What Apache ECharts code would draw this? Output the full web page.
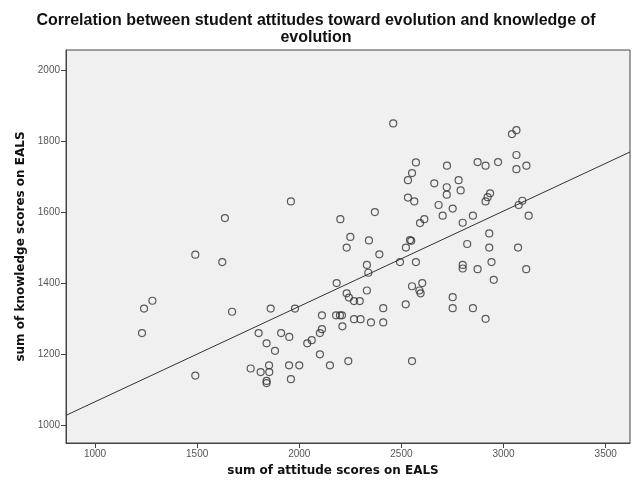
<!DOCTYPE html>
<html><head><meta charset="utf-8">
<script src="https://cdn.jsdelivr.net/npm/echarts@6/dist/echarts.min.js"></script>
<style>html,body{margin:0;padding:0;background:#fff}#c{width:632px;height:490px}</style>
</head><body><div id="c"></div>
<script>
const attitude = [1491,1623,1281,1240,1230,1671,1860,1979,1801,1911,1951,1840,1881,1491,1762,1852,1811,1853,1840,1840,1950,2000,1959,1636,
2460,1959,2571,2552,2532,2723,2780,2661,2722,2722,2790,2532,2563,2682,2751,2702,2370,2201,2612,2591,2250,2232,2341,2392,2542,2548,2522,2331,2493,2571,
2338,2183,2331,2232,2243,2268,2296,2552,2602,2588,2594,2521,2411,2751,2751,2111,2180,2199,2209,2268,2300,2351,2411,2211,2111,2101,2061,2039,2101,2150,2240,2552,
3063,3041,2873,2912,2973,3063,3063,3112,2934,2922,2912,2850,2800,3092,3074,3123,2930,2822,2930,3071,2941,2800,2800,2873,2952,3111,2850,2912];
const knowledge = [1481,1460,1351,1329,1260,1320,1329,1329,1260,1260,1249,1231,1210,1140,1160,1169,1150,1150,1119,1125,1169,1169,1130,1584,
1851,1631,1741,1711,1691,1732,1691,1682,1671,1650,1662,1642,1631,1621,1611,1591,1601,1581,1581,1570,1531,1501,1521,1482,1522,1520,1501,1452,1460,1460,
1430,1401,1380,1372,1360,1350,1350,1392,1401,1380,1372,1341,1330,1361,1330,1310,1310,1310,1310,1299,1299,1290,1290,1279,1271,1260,1240,1231,1200,1169,1181,1181,
1832,1821,1742,1732,1742,1762,1722,1732,1654,1643,1631,1591,1571,1633,1621,1591,1541,1511,1501,1501,1460,1452,1442,1440,1410,1440,1330,1300];
const xTicks = [1000,1500,2000,2500,3000,3500];
const yTicks = [1000,1200,1400,1600,1800,2000];
const xRange = [858, 3619];
const yRange = [950, 2058];
const fitIntercept = 797.3;
const fitSlope = 0.2689;

const points = attitude.map((a,i)=>[a, knowledge[i]]);
const fitLine = xRange.map(x => [x, fitIntercept + fitSlope*x]);

const chart = echarts.init(document.getElementById('c'));
const tickLabel = {fontFamily:'Arial, Liberation Sans', fontSize:10, color:'#555', formatter: v => String(v)};
chart.setOption({
  animation:false,
  title:{
    text:'Correlation between student attitudes toward evolution and knowledge of\nevolution',
    left:'center', top:7,
    textStyle:{fontFamily:'Liberation Sans, Arial', fontWeight:'bold', fontSize:16, color:'#111', lineHeight:17}
  },
  grid:{left:66, right:2, top:50, bottom:47, show:true, backgroundColor:'#f0f0f0', borderColor:'#444', borderWidth:1},
  xAxis:{
    type:'value', min:xRange[0], max:xRange[1],
    name:'sum of attitude scores on EALS', nameLocation:'middle', nameGap:22,
    nameTextStyle:{fontFamily:'DejaVu Sans', fontWeight:'bold', fontSize:12, color:'#111', padding:[0,30,0,0]},
    axisLine:{show:true, lineStyle:{color:'#444'}},
    axisTick:{show:true, customValues:xTicks, length:5, lineStyle:{color:'#444'}},
    axisLabel:Object.assign({customValues:xTicks, margin:6}, tickLabel),
    splitLine:{show:false}
  },
  yAxis:{
    type:'value', min:yRange[0], max:yRange[1],
    name:'sum of knowledge scores on EALS', nameLocation:'middle', nameGap:38, nameRotate:90,
    nameTextStyle:{fontFamily:'DejaVu Sans', fontWeight:'bold', fontSize:12, color:'#111'},
    axisLine:{show:true, lineStyle:{color:'#444'}},
    axisTick:{show:true, customValues:yTicks, length:5, lineStyle:{color:'#444'}},
    axisLabel:Object.assign({customValues:yTicks, margin:6}, tickLabel),
    splitLine:{show:false}
  },
  series:[
    {type:'scatter', data:points, symbol:'circle', symbolSize:7,
     itemStyle:{color:'rgba(0,0,0,0)', borderColor:'#333', borderWidth:1.2}},
    {type:'line', data:fitLine, symbol:'none', lineStyle:{color:'#333', width:1}, clip:true}
  ]
});
</script></body></html>
